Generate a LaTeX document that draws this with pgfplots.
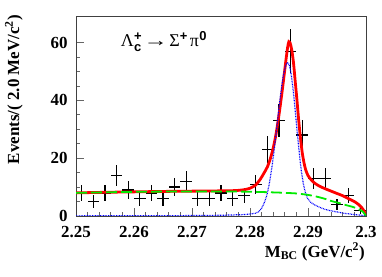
\documentclass[border=0pt]{standalone}
\usepackage{fontspec}
\usepackage{graphicx}
\usepackage{pgfplots}
\pgfplotsset{compat=1.18}
\usepackage{pgfplotstable}
\setmainfont{Liberation Serif}
\newfontfamily\hv{Liberation Sans}
\definecolor{rgreen}{RGB}{0,235,0}
\definecolor{rblue}{RGB}{0,0,255}
\definecolor{rred}{RGB}{255,0,0}
\newcommand{\supsub}[1]{{\hv\bfseries\fontsize{13}{13}\selectfont #1}}

\pgfplotstableread{
x y ex ey
2.251 8 0.001 2.83
2.253 5 0.001 2.24
2.255 8 0.001 2.83
2.257 14 0.001 3.74
2.259 9 0.001 3.00
2.261 6 0.001 2.45
2.263 8 0.001 2.83
2.265 6 0.001 2.45
2.267 10 0.001 3.16
2.269 12 0.001 3.46
2.271 6 0.001 2.45
2.273 6 0.001 2.45
2.275 8 0.001 2.83
2.277 6 0.001 2.45
2.279 7 0.001 2.65
2.281 11 0.001 3.32
2.283 23 0.001 4.80
2.285 33 0.001 5.74
2.287 57 0.001 7.55
2.289 28 0.001 5.29
2.291 13 0.001 3.61
2.293 13 0.001 3.61
2.295 4 0.001 2.00
2.297 7 0.001 2.65
2.299 2 0.001 1.41
}\datatable

\begin{document}
\begin{tikzpicture}
\path[use as bounding box] (0,0) rectangle (382bp,277bp);
\begin{axis}[
  at={(76bp,61bp)}, anchor=south west,
  scale only axis, width=290bp, height=200bp,
  xmin=2.25, xmax=2.30, ymin=0, ymax=69.2,
  xtick={2.25,2.26,2.27,2.28,2.29,2.30},
  xticklabels={2.25,2.26,2.27,2.28,2.29,2.3},
  ytick={0,20,40,60}, yticklabels={0,20,40,60},
  minor x tick num=4, minor y tick num=3,
  tick pos=left, tick align=inside,
  major tick length=8bp, minor tick length=4bp,
  every tick/.style={black!60, line width=0.8pt},
  axis line style={black!75, line width=0.8pt},
  tick label style={font=\fontsize{17}{17}\selectfont\bfseries},
  xticklabel style={yshift=-7bp},
  yticklabel style={xshift=-5bp},
]
\addplot[draw=none, mark=none, forget plot,
  error bars/.cd, x dir=both, x explicit, y dir=both, y explicit,
  error mark=none, error bar style={black, line width=1.4pt, solid}]
  table[x=x, y=y, x error=ex, y error=ey] {\datatable};

\addplot[rred, line width=2.8pt, smooth, tension=0.4] coordinates {
(2.250,8.0) (2.255,8.2) (2.260,8.35) (2.265,8.5) (2.270,8.6) (2.275,8.7)
(2.2775,8.8) (2.2790,9.1) (2.2800,9.6) (2.2809,10.6) (2.2817,12.5)
(2.2824,14.8) (2.2830,17.0) (2.2835,19.8) (2.2840,23.5) (2.2845,28.5)
(2.2850,35) (2.2855,42.5) (2.2859,49) (2.2862,54) (2.2865,58.5)
(2.2867,60.3) (2.2869,60.0) (2.2872,57.5) (2.2875,53) (2.2878,46.5)
(2.2881,40) (2.2884,33) (2.2887,27) (2.2890,22) (2.2893,18.5)
(2.2896,16) (2.2900,14.0) (2.2906,12.4) (2.2912,11.3) (2.2920,10.3)
(2.2930,9.4) (2.2940,8.6) (2.2950,7.8) (2.2960,7.0) (2.2970,6.0)
(2.2980,5.0) (2.2987,4.0) (2.2993,2.8) (2.2997,1.6) (2.3000,0.2)
};

\addplot[rblue, line width=1.2pt, dash pattern=on 0.8bp off 0.8bp, smooth, tension=0.4] coordinates {
(2.250,0.05) (2.260,0.08) (2.270,0.15) (2.275,0.25) (2.2790,0.5)
(2.2800,0.7) (2.2810,1.0) (2.2815,1.5) (2.2820,2.7) (2.2825,4.8)
(2.2829,7.2) (2.2832,9.9) (2.2835,13.2) (2.2838,17.2) (2.2841,21.8)
(2.2844,26.8) (2.2847,32.1) (2.2850,37.5) (2.2853,42.4) (2.2856,46.8)
(2.2859,50.1) (2.2862,52.3) (2.2865,53) (2.2868,52.0) (2.2871,48.9)
(2.2874,44.3) (2.2877,38.5) (2.2880,32.1) (2.2883,25.8) (2.2886,19.9)
(2.2889,14.9) (2.2892,11.2) (2.2895,8.5) (2.2899,6.2) (2.2905,4.7)
(2.2912,3.8) (2.2925,2.6) (2.2935,2.0) (2.2950,1.4) (2.2964,0.9)
(2.2980,0.5) (2.2990,0.3) (2.3000,0)
};

\addplot[rgreen, line width=1.8pt, dash pattern=on 11bp off 4bp, smooth, tension=0.4] coordinates {
(2.250,8.0) (2.255,8.2) (2.260,8.35) (2.265,8.45) (2.270,8.5) (2.275,8.5)
(2.280,8.4) (2.2850,8.1) (2.2880,7.8) (2.2900,7.3) (2.2915,6.7)
(2.2930,5.9) (2.2940,5.2) (2.2955,4.4) (2.2965,3.8) (2.2978,3.1)
(2.2988,2.3) (2.2995,1.4) (2.3000,0)
};

\node[anchor=base west, inner sep=0, font=\fontsize{18}{18}\selectfont]
  at (axis cs:2.2577,58.6)
  {Λ\kern0.3bp\rlap{\raisebox{-4.5bp}{\supsub{c}}}\raisebox{6.5bp}{\supsub{+}}\kern2bp\scalebox{1.35}[1]{→}\kern1.5bp Σ\raisebox{6.5bp}{\supsub{+}}\kern2.5bp π\kern0.5bp\raisebox{6.5bp}{\supsub{0}}};
\end{axis}
\node[rotate=90, anchor=base east, inner sep=0, font=\fontsize{17}{17}\selectfont\bfseries]
  at (19bp,262bp) {Events/( 2.0 MeV/c\textsuperscript{2})};
\node[anchor=base east, inner sep=0, font=\fontsize{17}{17}\selectfont\bfseries]
  at (365bp,20bp) {M\textsubscript{BC} (GeV/c\textsuperscript{2})};
\end{tikzpicture}
\end{document}
